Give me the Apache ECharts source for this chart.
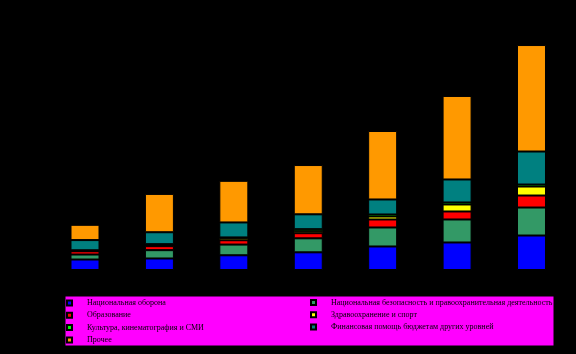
<!DOCTYPE html>
<html>
<head>
    <meta charset="UTF-8">
    <title></title>
    <script src="https://cdn.jsdelivr.net/npm/echarts@6/dist/echarts.min.js"></script>
    <style>
        *{ padding: 0; margin: 0; }
        body{ background: #000; }
        #main{ width: 576px; height: 354px; }
    </style>
</head>
<body>
<div id="main"></div>
<script>
// годы (ось скрыта на картинке)
var years = ['2001', '2002', '2003', '2004', '2005', '2006', '2007'];

// расходы по статьям, снизу вверх
var oborona      = [262, 288, 368, 442, 588, 688, 862];
var bezopasnost  = [125, 208, 268, 350, 475, 575, 700];
var obrazovanie  = [82, 100, 108, 128, 200, 200, 300];
var zdravoohr    = [12, 25, 58, 50, 75, 175, 225];
var kultura      = [12, 25, 12, 50, 50, 50, 50];
var finpomosh    = [255, 298, 375, 372, 375, 575, 825];
var prochee      = [382, 958, 1040, 1232, 1712, 2088, 2662];

var names = [
    'Национальная оборона',
    'Национальная безопасность и правоохранительная деятельность',
    'Образование',
    'Здравоохранение и спорт',
    'Культура, кинематография и СМИ',
    'Финансовая помощь бюджетам других уровней',
    'Прочее'
];
var colors = ['#0000FF', '#339966', '#FF0000', '#FFFF00', '#00FF00', '#008080', '#FF9900'];
var values = [oborona, bezopasnost, obrazovanie, zdravoohr, kultura, finpomosh, prochee];

var myChart = echarts.init(document.getElementById('main'));

var series = [];
for (var i = 0; i < names.length; i++) {
    series.push({
        name: names[i],
        type: 'bar',
        stack: 'all',
        barWidth: 29,
        itemStyle: {
            color: colors[i],
            borderColor: '#000',
            borderWidth: 1
        },
        data: values[i]
    });
}

var legendText = {
    fontFamily: 'Liberation Serif',
    fontSize: 8,
    color: '#000',
    lineHeight: 12,
    padding: [0, 0, 0, 10]
};

var option = {
    backgroundColor: '#000',
    animation: false,
    grid: { left: 47.8, right: 7.3, top: 20, bottom: 84 },
    xAxis: {
        type: 'category',
        data: years,
        show: false
    },
    yAxis: {
        type: 'value',
        min: 0,
        max: 6250,
        show: false
    },
    graphic: [{
        type: 'rect',
        z: 0,
        shape: { x: 65, y: 296, width: 489, height: 50 },
        style: { fill: '#FF00FF', stroke: '#000', lineWidth: 1 }
    }],
    legend: [{
        z: 10,
        orient: 'vertical',
        left: 66,
        top: 297,
        padding: 0,
        itemGap: 0.3,
        itemWidth: 5,
        itemHeight: 5,
        icon: 'rect',
        textStyle: legendText,
        data: [names[0], names[2], names[4], names[6]]
    }, {
        z: 10,
        orient: 'vertical',
        left: 310,
        top: 296.5,
        padding: 0,
        itemGap: 0.3,
        itemWidth: 5,
        itemHeight: 5,
        icon: 'rect',
        textStyle: legendText,
        data: [names[1], names[3], names[5]]
    }],
    series: series
};

myChart.setOption(option);
</script>
</body>
</html>
